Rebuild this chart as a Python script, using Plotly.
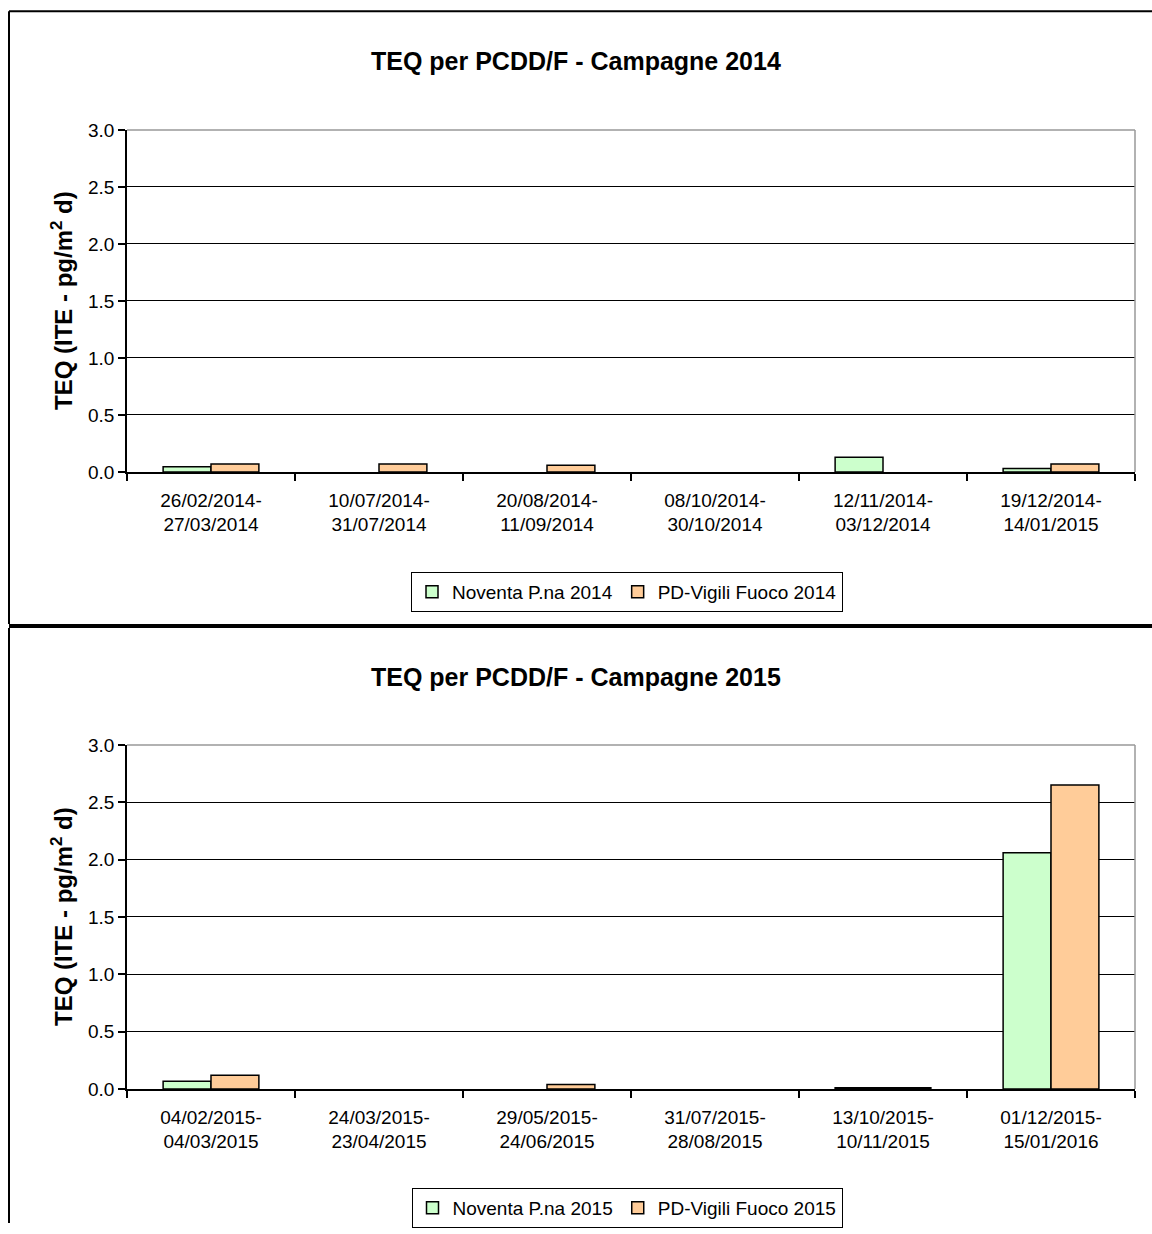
import plotly.graph_objects as go

W, H = 1152, 1234

cats_2014 = ["26/02/2014-<br>27/03/2014", "10/07/2014-<br>31/07/2014", "20/08/2014-<br>11/09/2014",
             "08/10/2014-<br>30/10/2014", "12/11/2014-<br>03/12/2014", "19/12/2014-<br>14/01/2015"]
noventa_2014 = [0.046, None, None, None, 0.13, 0.03]
vigili_2014 = [0.07, 0.07, 0.06, None, None, 0.07]

cats_2015 = ["04/02/2015-<br>04/03/2015", "24/03/2015-<br>23/04/2015", "29/05/2015-<br>24/06/2015",
             "31/07/2015-<br>28/08/2015", "13/10/2015-<br>10/11/2015", "01/12/2015-<br>15/01/2016"]
noventa_2015 = [0.067, None, None, None, 0.01, 2.06]
vigili_2015 = [0.12, None, 0.04, None, 0.01, 2.65]

y_ticks = [0.0, 0.5, 1.0, 1.5, 2.0, 2.5, 3.0]

FONT = "Liberation Sans, Arial, sans-serif"
GREEN = "#CCFFCC"
ORANGE = "#FFCC99"

def px_x(x):
    return x / W

def px_y(y):
    d = (y - 9) / 0.983
    return max(0.0, min(1.0, 1 - d / H))

fig = go.Figure()

bar_line = dict(color="black", width=1.5)
fig.add_trace(go.Bar(x=cats_2014, y=noventa_2014, name="Noventa P.na 2014", marker=dict(color=GREEN, line=bar_line),
                     xaxis="x", yaxis="y", legend="legend"))
fig.add_trace(go.Bar(x=cats_2014, y=vigili_2014, name="PD-Vigili Fuoco 2014", marker=dict(color=ORANGE, line=bar_line),
                     xaxis="x", yaxis="y", legend="legend"))
fig.add_trace(go.Bar(x=cats_2015, y=noventa_2015, name="Noventa P.na 2015", marker=dict(color=GREEN, line=bar_line),
                     xaxis="x2", yaxis="y2", legend="legend2"))
fig.add_trace(go.Bar(x=cats_2015, y=vigili_2015, name="PD-Vigili Fuoco 2015", marker=dict(color=ORANGE, line=bar_line),
                     xaxis="x2", yaxis="y2", legend="legend2"))

xdom = [px_x(127), px_x(1135)]
common_x = dict(type="category", showline=True, linecolor="black", linewidth=1.5, ticks="outside",
                tickson="boundaries", ticklen=7, tickcolor="black", tickwidth=1.5, ticklabelstandoff=10,
                tickfont=dict(family=FONT, size=19, color="black"), showgrid=False, fixedrange=True)
common_y = dict(range=[0, 3], tickvals=y_ticks, ticktext=[f"{v:.1f}" for v in y_ticks],
                showline=True, linecolor="black", linewidth=1.5, ticks="outside", ticklen=7,
                tickcolor="black", tickwidth=1.5, showgrid=True, gridcolor="black", gridwidth=1,
                zeroline=False, tickfont=dict(family=FONT, size=19, color="black"), fixedrange=True)

legend_common = dict(orientation="h", xanchor="center", yanchor="middle", bordercolor="black", borderwidth=1,
                     bgcolor="white", font=dict(family=FONT, size=19, color="black"), itemclick=False,
                     traceorder="normal", tracegroupgap=0, itemwidth=30)

fig.update_layout(
    width=W, height=H, margin=dict(l=0, r=0, t=0, b=0), paper_bgcolor="white", plot_bgcolor="white",
    barmode="group", bargap=0.43, bargroupgap=0, showlegend=True,
    xaxis=dict(domain=xdom, anchor="y", **common_x),
    yaxis=dict(domain=[px_y(471), px_y(129)], anchor="x", **common_y),
    xaxis2=dict(domain=xdom, anchor="y2", **common_x),
    yaxis2=dict(domain=[px_y(1088), px_y(744)], anchor="x2", **common_y),
    legend=dict(x=px_x(627), y=px_y(591), **legend_common),
    legend2=dict(x=px_x(627), y=px_y(1207), **legend_common),
)

annotations = []
for title, ty, yc in [("TEQ per PCDD/F - Campagne 2014", 60, 300), ("TEQ per PCDD/F - Campagne 2015", 676, 916)]:
    annotations.append(dict(text=f"<b>{title}</b>", x=px_x(576), y=px_y(ty), xref="paper", yref="paper",
                            showarrow=False, xanchor="center", yanchor="middle",
                            font=dict(family=FONT, size=25, color="black")))
    annotations.append(dict(text="<b>TEQ (ITE - pg/m<sup>2</sup> d)</b>", x=px_x(62), y=px_y(yc), xref="paper", yref="paper",
                            showarrow=False, xanchor="center", yanchor="middle", textangle=-90,
                            font=dict(family=FONT, size=24, color="black")))
fig.update_layout(annotations=annotations)

shapes = []
for xr, yr in [("x domain", "y domain"), ("x2 domain", "y2 domain")]:
    shapes.append(dict(type="line", xref=xr, yref=yr, x0=0, x1=1, y0=1, y1=1, line=dict(color="#999999", width=1.5)))
    shapes.append(dict(type="line", xref=xr, yref=yr, x0=1, x1=1, y0=0, y1=1, line=dict(color="#999999", width=1.5)))
top_y = 0.999
shapes.append(dict(type="line", xref="paper", yref="paper", x0=px_x(9), x1=1, y0=top_y, y1=top_y, line=dict(color="black", width=2)))
shapes.append(dict(type="line", xref="paper", yref="paper", x0=px_x(9), x1=px_x(9), y0=top_y, y1=px_y(623), line=dict(color="black", width=2)))
shapes.append(dict(type="line", xref="paper", yref="paper", x0=px_x(9), x1=1, y0=px_y(625), y1=px_y(625), line=dict(color="black", width=4)))
shapes.append(dict(type="line", xref="paper", yref="paper", x0=px_x(9), x1=px_x(9), y0=px_y(627), y1=0, line=dict(color="black", width=2)))
fig.update_layout(shapes=shapes)

fig.write_html("out.html", config={"displayModeBar": False},
               post_script="document.body.style.margin='0px';document.body.style.overflow='hidden';document.documentElement.style.overflow='hidden';")
